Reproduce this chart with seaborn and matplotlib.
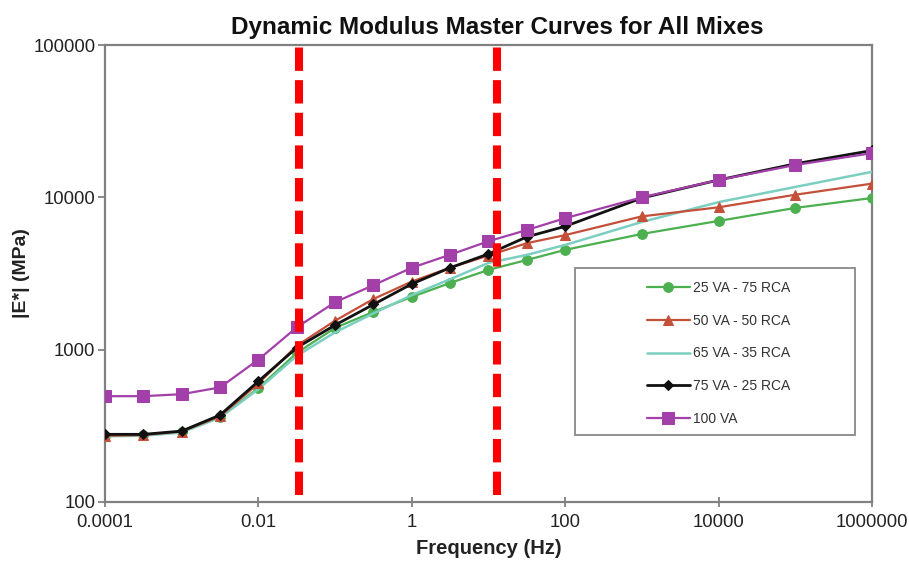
import numpy as np
import pandas as pd
import matplotlib
matplotlib.use("Agg")
import matplotlib.pyplot as plt
from matplotlib.patches import Rectangle
import seaborn as sns

# Reduced frequency (Hz) and dynamic modulus |E*| (MPa) per mix
frequency = [0.0001, 0.000316, 0.001, 0.00316, 0.01, 0.0316, 0.1, 0.316,
             1, 3.16, 10, 31.6, 100, 1000, 10000, 100000, 1000000]
mix_25va_75rca = [272, 275, 288, 360, 560, 950, 1390, 1770, 2220, 2740,
                  3340, 3880, 4520, 5750, 7000, 8520, 9900]
mix_50va_50rca = [272, 275, 290, 365, 600, 1060, 1550, 2150, 2800, 3450,
                  4150, 5000, 5650, 7500, 8600, 10400, 12300]
mix_65va_35rca = [270, 272, 286, 358, 550, 910, 1300, 1730, 2280, 2900,
                  3710, 4190, 4870, 6890, 9300, 11700, 14700]
mix_75va_25rca = [278, 278, 292, 372, 620, 1030, 1450, 1980, 2700, 3450,
                  4250, 5500, 6450, 9900, 13000, 16600, 20300]
mix_100va = [495, 495, 510, 565, 860, 1400, 2050, 2650, 3450, 4200,
             5150, 6100, 7300, 10000, 13000, 16300, 19500]

mix_labels = ["25 VA - 75 RCA", "50 VA - 50 RCA", "65 VA - 35 RCA",
              "75 VA - 25 RCA", "100 VA"]
x_tick_values = [0.0001, 0.01, 1, 100, 10000, 1000000]
x_tick_labels = ["0.0001", "0.01", "1", "100", "10000", "1000000"]
y_tick_values = [100, 1000, 10000, 100000]
y_tick_labels = ["100", "1000", "10000", "100000"]
marker_lines_hz = [0.0338, 12.9]

series = [mix_25va_75rca, mix_50va_50rca, mix_65va_35rca, mix_75va_25rca, mix_100va]
df = pd.concat(
    [pd.DataFrame({"Frequency": frequency, "Modulus": vals, "Mix": lab})
     for lab, vals in zip(mix_labels, series)],
    ignore_index=True,
)

sns.set_theme(style="white")
plt.rcParams["font.family"] = ["Liberation Sans", "DejaVu Sans"]

styles = {
    "25 VA - 75 RCA": dict(color="#4CAF50", marker="o", markersize=7, lw=1.6, zorder=3),
    "50 VA - 50 RCA": dict(color="#C4503A", marker="^", markersize=7, lw=1.6, zorder=4),
    "65 VA - 35 RCA": dict(color="#7CCFC0", marker="", markersize=0, lw=1.8, zorder=3),
    "75 VA - 25 RCA": dict(color="#111111", marker="D", markersize=5.5, lw=2.0, zorder=5),
    "100 VA": dict(color="#A23FA8", marker="s", markersize=8.5, lw=1.6, zorder=6),
}

fig = plt.figure(figsize=(9.09, 5.69), dpi=100)
ax = fig.add_axes([0.1155, 0.1178, 0.9593 - 0.1155, 0.9209 - 0.1178])

for lab in mix_labels:
    st = styles[lab]
    sns.lineplot(data=df[df["Mix"] == lab], x="Frequency", y="Modulus", ax=ax,
                 color=st["color"], marker=st["marker"], markersize=st["markersize"],
                 markeredgecolor=st["color"], linewidth=st["lw"], label=lab,
                 zorder=st["zorder"], legend=False)

ax.set_xscale("log")
ax.set_yscale("log")
ax.set_xlim(0.0001, 1000000)
ax.set_ylim(100, 100000)

for xv in marker_lines_hz:
    ax.axvline(xv, ymin=0.015, ymax=1.005, color="#FF0000", lw=5.8,
               dashes=(2.9, 1.15), zorder=8, clip_on=False)

ax.xaxis.set_major_locator(matplotlib.ticker.FixedLocator(x_tick_values))
ax.xaxis.set_minor_locator(matplotlib.ticker.NullLocator())
ax.set_xticklabels(x_tick_labels)
ax.yaxis.set_major_locator(matplotlib.ticker.FixedLocator(y_tick_values))
ax.yaxis.set_minor_locator(matplotlib.ticker.NullLocator())
ax.set_yticklabels(y_tick_labels)

ax.tick_params(axis="x", direction="inout", length=7, width=1.2, color="#777777",
               labelsize=13.3, pad=5, labelcolor="#222222")
ax.tick_params(axis="y", direction="out", length=5, width=1.2, color="#777777",
               labelsize=13.3, pad=2, labelcolor="#222222", left=True)
ax.tick_params(axis="x", bottom=True)
for sp in ax.spines.values():
    sp.set_color("#808080")
    sp.set_linewidth(1.6)

ax.set_xlabel("Frequency (Hz)", fontsize=14.5, fontweight="bold", labelpad=6, color="#222222")
ax.set_ylabel("|E*| (MPa)", fontsize=14, fontweight="bold", labelpad=2, color="#222222")
ax.set_title("Dynamic Modulus Master Curves for All Mixes", fontsize=17.5,
             fontweight="bold", pad=8, color="#111111", x=0.512)

# Legend frame and entries
ax.add_patch(Rectangle((0.613, 0.147), 0.365, 0.365, transform=ax.transAxes,
                       facecolor="white", edgecolor="#888888", lw=1.3, zorder=9))
handles, labels = ax.get_legend_handles_labels()
leg = ax.legend(handles, labels, loc="upper left", bbox_to_anchor=(0.6935, 0.505),
                frameon=False, fontsize=10, handlelength=3.1, handletextpad=0.25,
                labelspacing=1.35, borderpad=0.2)
leg.set_zorder(10)
for t in leg.get_texts():
    t.set_color("#333333")

fig.savefig("out.png", dpi=100)
